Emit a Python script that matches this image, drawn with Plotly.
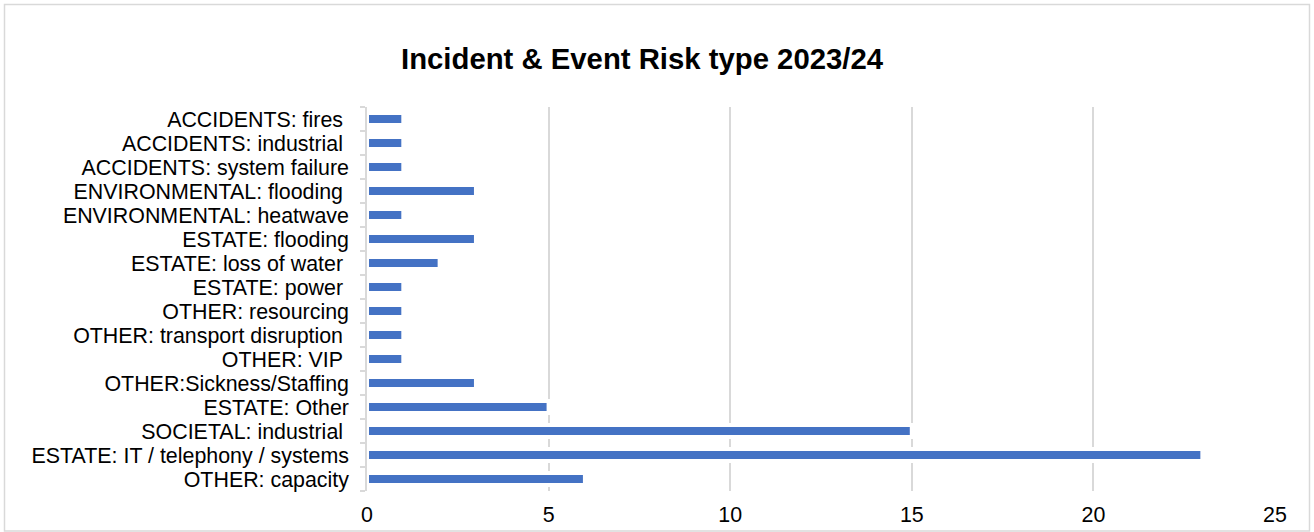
import plotly.graph_objects as go

categories = [
    "ACCIDENTS: fires\u00a0",
    "ACCIDENTS: industrial\u00a0",
    "ACCIDENTS: system failure",
    "ENVIRONMENTAL: flooding\u00a0",
    "ENVIRONMENTAL: heatwave",
    "ESTATE: flooding",
    "ESTATE: loss of water\u00a0",
    "ESTATE: power\u00a0",
    "OTHER: resourcing",
    "OTHER: transport disruption\u00a0",
    "OTHER: VIP\u00a0",
    "OTHER:Sickness/Staffing",
    "ESTATE: Other",
    "SOCIETAL: industrial\u00a0",
    "ESTATE: IT / telephony / systems",
    "OTHER: capacity",
]
values = [1, 1, 1, 3, 1, 3, 2, 1, 1, 1, 1, 3, 5, 15, 23, 6]
x_ticks = [0, 5, 10, 15, 20, 25]
title_text = "Incident &amp; Event Risk type 2023/24"

W, H = 1314, 532
L, R, T, B = 367, 39, 107, 41
pw, ph = W - L - R, H - T - B

fig = go.Figure(
    go.Bar(
        x=values,
        y=categories,
        orientation="h",
        width=0.5,
        marker=dict(color="#4472C4", line=dict(color="white", width=4)),
        hoverinfo="x+y",
    )
)

fig.update_layout(
    width=W,
    height=H,
    margin=dict(l=L, r=R, t=T, b=B, pad=0, autoexpand=False),
    paper_bgcolor="white",
    plot_bgcolor="white",
    font=dict(family="Liberation Sans, Arial, sans-serif", size=21.4, color="#000000"),
    title=dict(
        text="<b>" + title_text + "</b>",
        font=dict(size=29.3, color="#000000"),
        x=642 / W,
        xanchor="center",
        xref="container",
        y=1 - 59 / H,
        yanchor="middle",
        yref="container",
    ),
    showlegend=False,
    shapes=[
        dict(
            type="rect",
            xref="paper",
            yref="paper",
            x0=(4.5 - L) / pw,
            x1=(1309.5 - L) / pw,
            y0=(T + ph - 531) / ph,
            y1=(T + ph - 4.5) / ph,
            line=dict(color="#d9d9d9", width=1.5),
            fillcolor="rgba(0,0,0,0)",
            layer="below",
        )
    ],
)

fig.update_xaxes(
    range=[0, 25],
    tickvals=x_ticks,
    ticktext=[str(v) for v in x_ticks],
    showgrid=True,
    gridcolor="#d9d9d9",
    gridwidth=1.5,
    zeroline=False,
    showline=False,
    ticks="",
    ticklabelstandoff=9,
    automargin=False,
    tickfont=dict(size=21.4, color="#000000"),
)

fig.update_yaxes(
    type="category",
    categoryorder="array",
    categoryarray=categories,
    tickmode="array",
    tickvals=categories,
    ticktext=categories,
    autorange="reversed",
    showgrid=False,
    zeroline=False,
    showline=True,
    linecolor="#d9d9d9",
    linewidth=1.5,
    ticks="outside",
    tickson="boundaries",
    ticklen=5,
    tickcolor="#d9d9d9",
    tickwidth=1.5,
    ticklabelstandoff=12,
    automargin=False,
    tickfont=dict(size=21.4, color="#000000"),
)

fig.write_html("out.html")
